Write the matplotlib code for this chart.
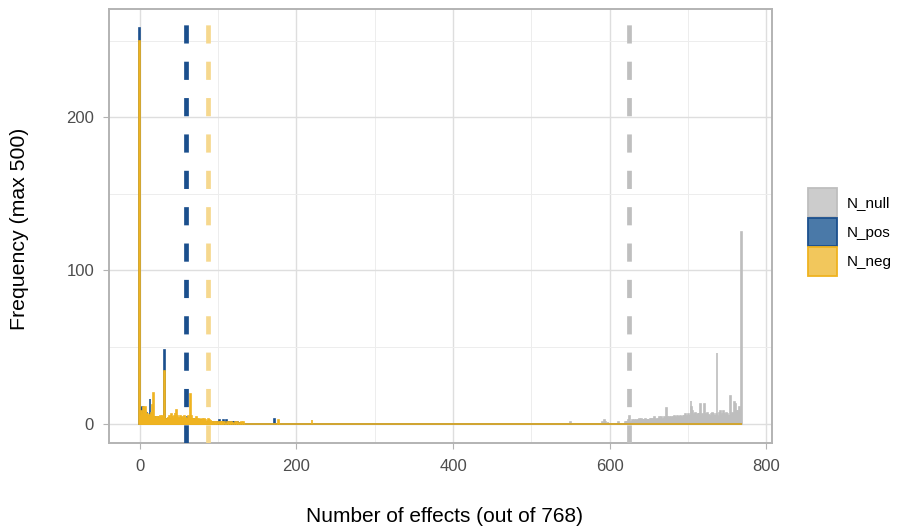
import numpy as np
import matplotlib
matplotlib.use("Agg")
import matplotlib.pyplot as plt
from matplotlib.patches import Patch

# ---------------- data ----------------
n_bins = 769  # possible values 0..768

series_names = ["N_null", "N_pos", "N_neg"]

# N_pos: frequency for values 0..140, plus a few isolated values
pos_counts_low = [
    258, 6, 10, 11, 9, 7, 5, 6, 4, 7, 5, 4, 3, 16, 4, 3, 5, 3, 4, 3,
    4, 2, 3, 4, 3, 2, 3, 4, 3, 2, 3, 4, 48, 3, 2, 3, 2, 3, 2, 3,
    2, 3, 2, 2, 3, 2, 3, 2, 2, 3, 2, 2, 3, 2, 4, 2, 2, 3, 2, 3,
    2, 4, 2, 2, 1, 2, 1, 2, 1, 3, 1, 2, 1, 2, 1, 2, 1, 2, 1, 2,
    1, 1, 0, 1, 0, 1, 0, 1, 0, 0, 0, 0, 1, 1, 0, 0, 1, 1, 1, 1,
    1, 1, 2, 1, 1, 1, 1, 2, 1, 1, 1, 2, 1, 1, 0, 1, 1, 1, 1, 0,
    1, 1, 0, 1, 0, 1, 0, 0, 1, 0, 0, 0, 0, 0, 0, 0, 0, 0, 0, 0, 0,
]
pos_extra_x = [172]
pos_extra_n = [3]

# N_neg: frequency for values 0..140, plus a few isolated values
neg_counts_low = [
    250, 5, 8, 6, 5, 11, 10, 11, 8, 4, 6, 5, 4, 6, 5, 7, 12, 20, 5, 4,
    3, 4, 5, 4, 3, 4, 5, 4, 3, 5, 4, 5, 34, 3, 2, 3, 4, 2, 5, 3,
    6, 5, 4, 3, 5, 7, 4, 9, 5, 3, 4, 3, 5, 2, 3, 4, 2, 5, 3, 4,
    2, 3, 5, 4, 3, 19, 5, 3, 2, 3, 2, 3, 4, 2, 3, 2, 3, 2, 1, 2,
    3, 2, 1, 3, 2, 1, 1, 2, 3, 2, 1, 2, 1, 1, 0, 1, 0, 1, 1, 0,
    0, 1, 0, 1, 1, 0, 1, 0, 1, 0, 0, 0, 1, 0, 0, 1, 0, 1, 0, 1,
    0, 0, 1, 0, 0, 1, 0, 0, 1, 0, 1, 0, 1, 0, 0, 0, 0, 0, 0, 0, 0,
]
neg_extra_x = [177, 220]
neg_extra_n = [2, 2]

# N_null: frequency for values 620..768, plus a few isolated values
null_start = 620
null_counts_high = [
    1, 0, 1, 1, 2, 5, 1, 0, 1, 2, 1, 1, 2, 1, 2, 2, 1, 2, 3, 2,
    2, 3, 2, 1, 3, 2, 3, 2, 2, 3, 2, 1, 3, 3, 2, 2, 3, 4, 3, 2,
    3, 2, 3, 3, 4, 3, 4, 2, 3, 3, 4, 3, 3, 10, 4, 3, 4, 4, 3, 4,
    3, 4, 4, 5, 4, 3, 4, 5, 4, 4, 5, 5, 4, 3, 5, 4, 5, 6, 4, 5,
    4, 6, 5, 5, 15, 11, 8, 5, 6, 5, 7, 4, 6, 5, 7, 6, 13, 5, 4, 6,
    5, 13, 6, 4, 5, 7, 5, 6, 4, 5, 6, 7, 7, 6, 5, 5, 6, 46, 5, 4,
    7, 6, 8, 5, 6, 8, 7, 6, 5, 7, 5, 6, 5, 5, 18, 6, 5, 7, 6, 14,
    5, 13, 8, 6, 9, 7, 11, 9, 125,
]
null_extra_x = [550, 591, 593, 595, 598, 611]
null_extra_n = [1, 1, 2, 1, 1, 1]

# mean number of effects per class (dashed lines)
mean_null = 625.0
mean_pos = 58.5
mean_neg = 86.7

# ---------------- styles ----------------
bar_colors = {"N_null": "#BEBEBE", "N_pos": "#1B4F8D", "N_neg": "#EFB320"}
key_fill = {"N_null": "#CCCCCC", "N_pos": "#4A79A8", "N_neg": "#F2C75C"}
vline_colors = {"N_null": "#BFBFBF", "N_pos": "#1B4F8D", "N_neg": "#F6D88E"}


def full_counts(low=None, low_start=0, extra_x=(), extra_n=()):
    c = np.zeros(n_bins)
    if low is not None:
        c[low_start:low_start + len(low)] = low
    for x, n in zip(extra_x, extra_n):
        c[x] = n
    return c


counts = {
    "N_null": full_counts(null_counts_high, null_start, null_extra_x, null_extra_n),
    "N_pos": full_counts(pos_counts_low, 0, pos_extra_x, pos_extra_n),
    "N_neg": full_counts(neg_counts_low, 0, neg_extra_x, neg_extra_n),
}
means = {"N_null": mean_null, "N_pos": mean_pos, "N_neg": mean_neg}

plt.rcParams["font.family"] = ["Liberation Sans", "DejaVu Sans"]

W, H = 902, 530
fig = plt.figure(figsize=(W / 100, H / 100), dpi=100)
L, R, T, B = 109.3, 771.7, 8.7, 443.3
ax = fig.add_axes([L / W, 1 - B / H, (R - L) / W, (B - T) / H])

xs = np.arange(n_bins)
for name in series_names:
    ax.bar(xs, counts[name], width=1.0, color=bar_colors[name],
           edgecolor=bar_colors[name], linewidth=1.2, zorder=2)

for name in series_names:
    ax.axvline(means[name], color=vline_colors[name], lw=3.4,
               dashes=(3.85, 3.85), dash_capstyle="butt", zorder=3)

ax.set_xlim(-38.95, 806.95)
ax.set_ylim(-12.9, 270.9)
ax.set_xticks([0, 200, 400, 600, 800])
ax.set_xticks([100, 300, 500, 700], minor=True)
ax.set_yticks([0, 100, 200])
ax.set_yticks([50, 150, 250], minor=True)
ax.grid(which="major", color="#DEDEDE", lw=1.0, zorder=0)
ax.grid(which="minor", color="#EDEDED", lw=0.7, zorder=0)
ax.set_axisbelow(True)
for s in ax.spines.values():
    s.set_color("#B3B3B3")
    s.set_linewidth(1.4)
ax.tick_params(which="major", length=4, width=0.8, color="#B3B3B3",
               labelcolor="#4D4D4D", labelsize=12, pad=7)
ax.tick_params(which="minor", length=0)

fig.text(445 / W, 1 - 517 / H, "Number of effects (out of 768)",
         ha="center", va="center", fontsize=15, color="black")
fig.text(20 / W, 1 - 229 / H, "Frequency (max 500)", rotation=90,
         ha="center", va="center", fontsize=15.3, color="black")

handles = [Patch(facecolor=key_fill[n], edgecolor=bar_colors[n], linewidth=1.3,
                 label=n) for n in series_names]
leg = fig.legend(handles=handles, loc="upper left",
                 bbox_to_anchor=(808 / W, 1 - 188 / H),
                 bbox_transform=fig.transFigure, frameon=False,
                 fontsize=11, handlelength=1.9, handleheight=2.5,
                 labelspacing=0.07, handletextpad=0.65, borderpad=0,
                 borderaxespad=0)

fig.savefig("out.png", dpi=100)
